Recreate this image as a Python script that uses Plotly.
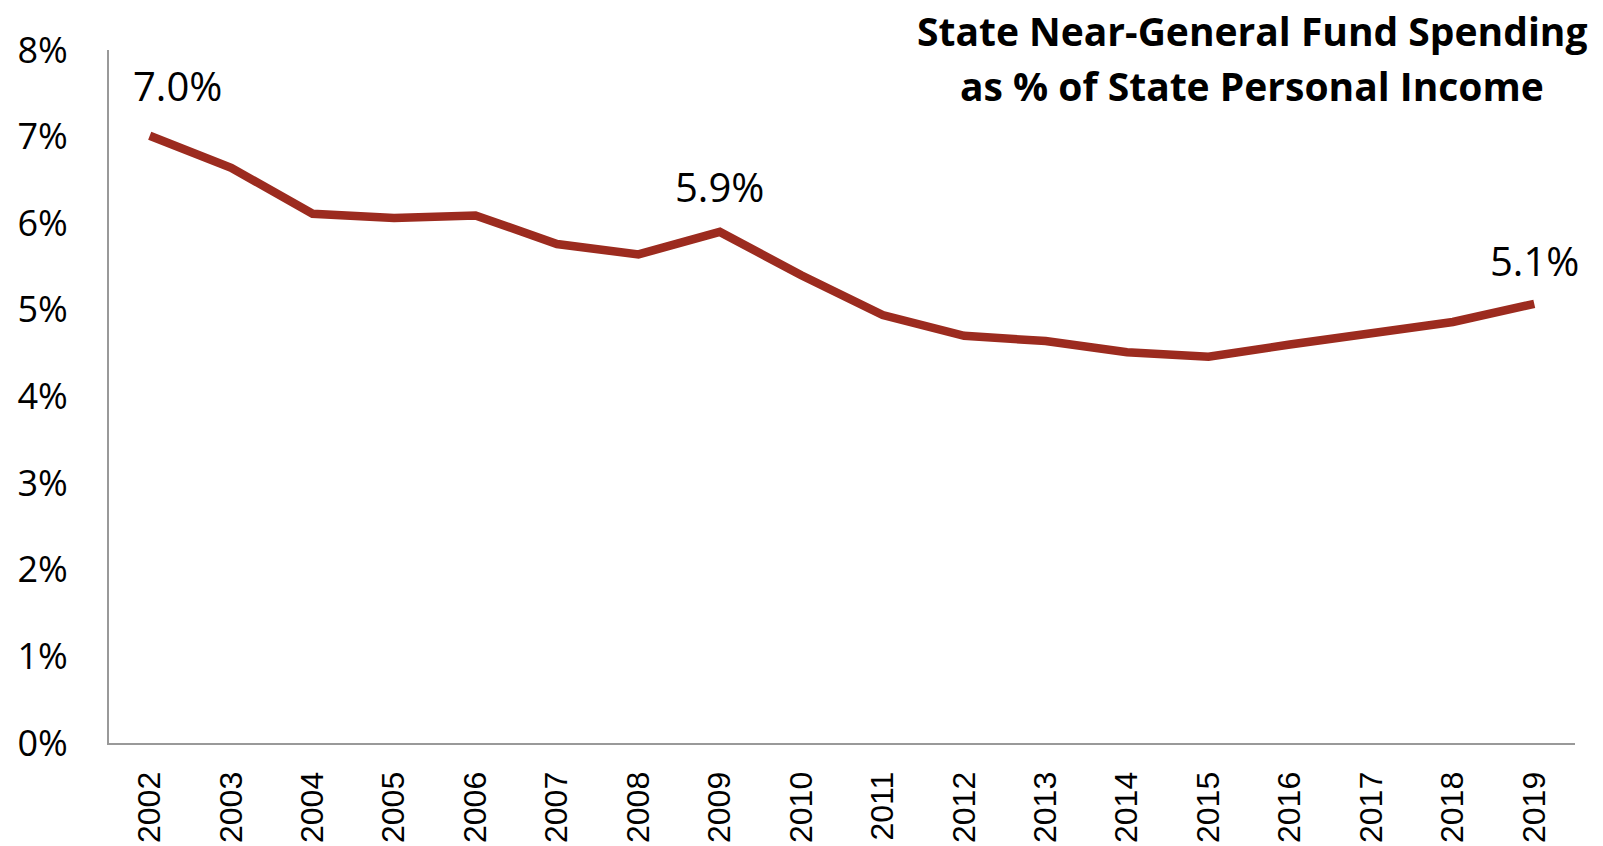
import plotly.graph_objects as go

years = [str(y) for y in range(2002, 2020)]
values = [7.01, 6.64, 6.11, 6.06, 6.09, 5.76, 5.64, 5.90, 5.40, 4.94, 4.70, 4.64, 4.51, 4.46, 4.60, 4.74, 4.86, 5.07]
label_years = ["2002", "2009", "2019"]
label_texts = ["7.0%", "5.9%", "5.1%"]
label_xshift = [28, 0, 0]
label_yshift = [50, 45, 43]
y_ticks = [0, 1, 2, 3, 4, 5, 6, 7, 8]
y_tick_text = [f"{t}%" for t in y_ticks]
title_lines = ["State Near-General Fund Spending", "as % of State Personal Income"]

line_color = "#9C2B1F"
axis_color = "#999999"

fig = go.Figure()
fig.add_trace(go.Scatter(
    x=years, y=values, mode="lines",
    line=dict(color=line_color, width=8.5),
    hoverinfo="x+y",
))

annotations = []
for yr, txt, xs, ys in zip(label_years, label_texts, label_xshift, label_yshift):
    idx = years.index(yr)
    annotations.append(dict(
        x=idx, y=values[idx], xref="x", yref="y",
        text=txt, showarrow=False, xshift=xs, yshift=ys,
        font=dict(family="Open Sans", size=40, color="#000000"),
        xanchor="center", yanchor="middle",
    ))

title_y = [1.028, 0.949]
for line, ty in zip(title_lines, title_y):
    annotations.append(dict(
        x=0.78, y=ty, xref="paper", yref="paper", text=line, showarrow=False,
        font=dict(family="Open Sans", size=39, color="#000000", weight="bold"),
        xanchor="center", yanchor="middle",
    ))

# page body has an 8px default margin, so the figure is sized to the visible area
fig.update_layout(
    width=1595, height=838,
    margin=dict(l=101, r=28, t=42, b=103, autoexpand=False),
    paper_bgcolor="white", plot_bgcolor="white",
    showlegend=False,
    annotations=annotations,
)
fig.update_xaxes(
    type="category", automargin=False,
    showline=True, linecolor=axis_color, linewidth=2,
    showgrid=False, ticks="", tickangle=-90,
    tickfont=dict(family="Liberation Sans", size=32, color="#000000"),
    ticklabelstandoff=14,
    range=[-0.5, len(years) - 0.5],
)
fig.update_yaxes(
    range=[0, 8], tickvals=y_ticks, ticktext=y_tick_text, automargin=False,
    showline=True, linecolor=axis_color, linewidth=2,
    showgrid=False, zeroline=False, ticks="",
    tickfont=dict(family="Open Sans", size=36, color="#000000"),
    ticklabelstandoff=32,
)

fig.write_html("out.html")
